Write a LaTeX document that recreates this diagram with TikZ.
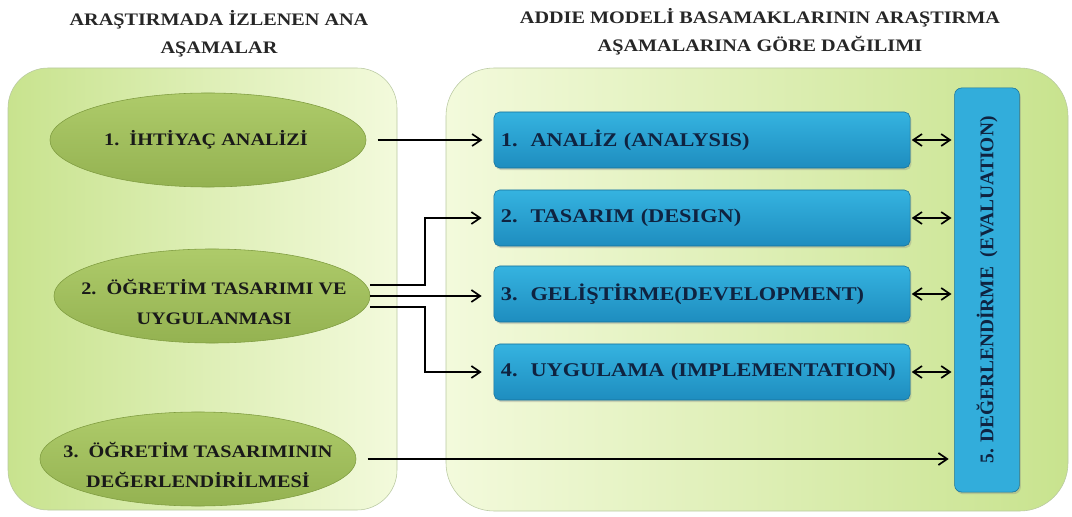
\documentclass[tikz,border=0pt]{standalone}
\usepackage{fontspec}
\setmainfont{Liberation Serif}[BoldFont={Liberation Serif Bold}, FakeStretch=1.15]
\newfontfamily\evfont{Liberation Serif}[BoldFont={Liberation Serif Bold}]
\usetikzlibrary{shapes.geometric,arrows.meta,shadows}

\definecolor{panelgreen}{HTML}{C8E38E}
\definecolor{panellight}{HTML}{F3FADC}
\definecolor{panelline}{HTML}{B9C9A2}
\definecolor{olivetop}{HTML}{AECB6A}
\definecolor{olivebot}{HTML}{94B251}
\definecolor{oliveline}{HTML}{7F9C40}
\definecolor{bluetop}{HTML}{35B3E0}
\definecolor{bluebot}{HTML}{1E8DBF}
\definecolor{navy}{HTML}{0F2340}

\begin{document}
\begin{tikzpicture}[x=0.025cm, y=-0.025cm,
    >={Straight Barb[length=2.2mm,width=3mm,line width=1.2pt]},
    title/.style={align=center, font=\bfseries\fontsize{12.5}{20}\selectfont, text=black!85},
    phase/.style={ellipse, draw=oliveline, top color=olivetop, bottom color=olivebot,
        minimum width=7.9cm, minimum height=2.35cm, inner sep=0pt},
    phasetext/.style={align=center, font=\bfseries\fontsize{12.5}{21}\selectfont, text=black!90},
    addie/.style={rectangle, rounded corners=4pt, draw=bluebot!80!black,
        top color=bluetop, bottom color=bluebot, text width=10.05cm, inner xsep=0.175cm,
        minimum height=1.4cm, align=left, font=\bfseries\fontsize{13.8}{16}\selectfont,
        text=navy, drop shadow={shadow xshift=1pt, shadow yshift=-1.5pt, opacity=0.3}},
    arr/.style={->, line width=1.2pt}
    ]
    \useasboundingbox (0,0) rectangle (1072,517);

    % panels
    \draw[panelline, rounded corners=1cm, left color=panelgreen, right color=panellight]
        (8,68) rectangle (397,510);
    \draw[panelline, rounded corners=1.2cm, left color=panellight, right color=panelgreen]
        (446,68) rectangle (1068,511);

    \node[title] at (219,34)(t1){ARAŞTIRMADA İZLENEN ANA\\AŞAMALAR};
    \node[title] at (760,32)(t2){ADDIE MODELİ BASAMAKLARININ ARAŞTIRMA\\AŞAMALARINA GÖRE DAĞILIMI};

    \node[phase] at (208,140)(e1){};
    \node[phase] at (212,296)(e2){};
    \node[phase] at (198,459)(e3){};
    \node[phasetext] at (206,140)(e1t){1.\ \ İHTİYAÇ ANALİZİ};
    \node[phasetext] at (214,302)(e2t){2.\ \ ÖĞRETİM TASARIMI VE\\UYGULANMASI};
    \node[phasetext] at (198,465)(e3t){3.\ \ ÖĞRETİM TASARIMININ\\DEĞERLENDİRİLMESİ};

    \node[addie] at (702,140)(b1){1.\ \ ANALİZ (ANALYSIS)};
    \node[addie] at (702,218)(b2){2.\ \ TASARIM (DESIGN)};
    \node[addie] at (702,294)(b3){3.\ \ GELİŞTİRME(DEVELOPMENT)};
    \node[addie] at (702,372)(b4){4.\ \ UYGULAMA (IMPLEMENTATION)};

    \node[rectangle, rounded corners=5pt, draw=bluebot!80!black, fill=bluetop!85!bluebot,
        minimum width=1.62cm, minimum height=10.1cm, text=navy,
        drop shadow={shadow xshift=1pt, shadow yshift=-1.5pt, opacity=0.3},
        font=\evfont\bfseries\fontsize{13.8}{16}\selectfont] at (987,290)(ev)
        {\rotatebox{90}{5. DEĞERLENDİRME\ \ (EVALUATION)}};

    \draw[arr, shorten <=8pt, shorten >=8pt] (e1.east) -- (b1.west);
    \draw[arr] ([yshift=0.27cm]e2.east) -- ++(55,0) |- ([xshift=-0.3cm]b2.west);
    \draw[arr] (e2.east) -- ([xshift=-0.3cm]b3.west |- e2.east);
    \draw[arr] ([yshift=-0.27cm]e2.east) -- ++(55,0) |- ([xshift=-0.3cm]b4.west);
    \draw[arr, shorten <=8pt, shorten >=4pt] (e3.east) -- (e3.east -| ev.west);

    \path[<->, line width=1.2pt, shorten <=1pt, shorten >=2pt]
        (b1.east) edge (b1.east -| ev.west)
        (b2.east) edge (b2.east -| ev.west)
        (b3.east) edge (b3.east -| ev.west)
        (b4.east) edge (b4.east -| ev.west);
\end{tikzpicture}
\end{document}
